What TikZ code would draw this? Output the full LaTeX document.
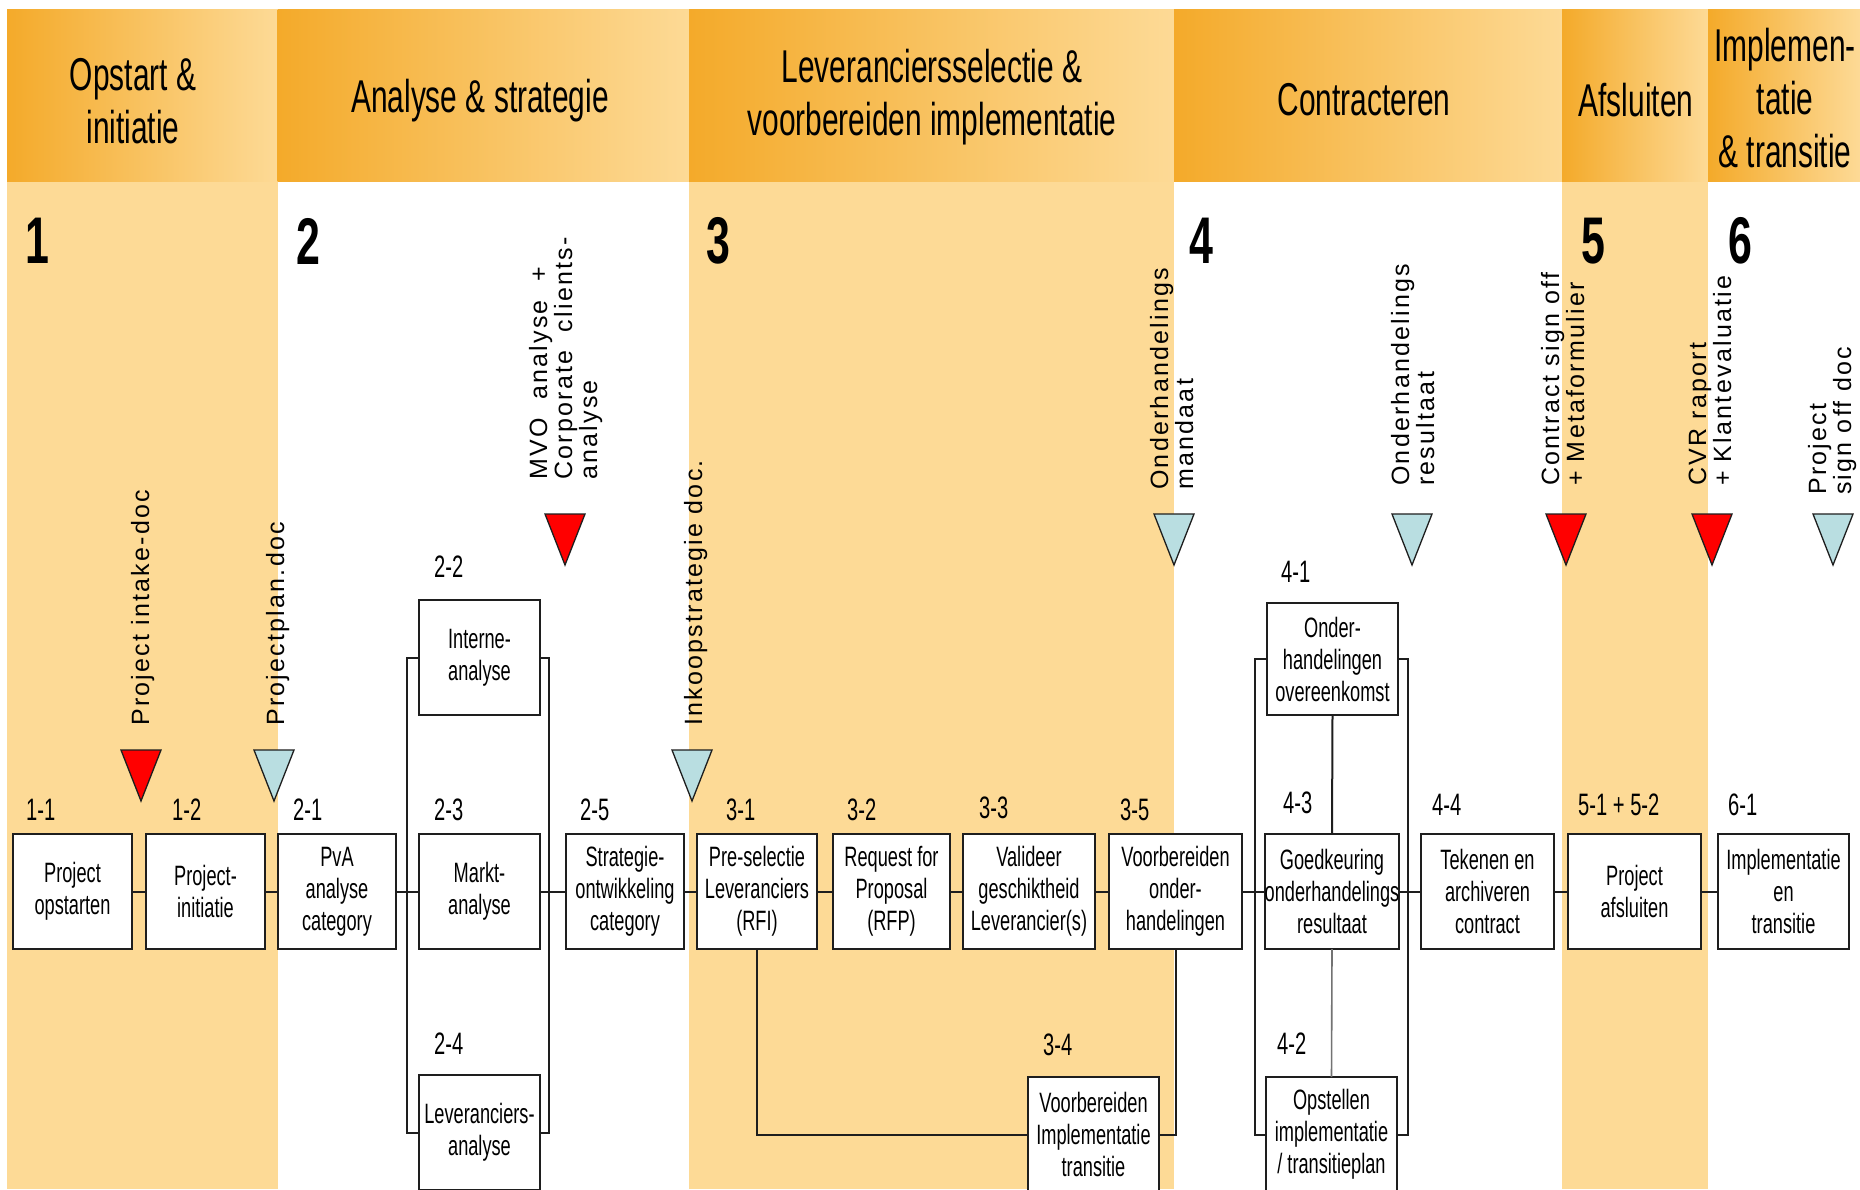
\documentclass[tikz,border=0pt]{standalone}
\usepackage{fontspec}
\setmainfont{Liberation Sans}
\newfontfamily\condfont[FakeStretch=0.65]{Liberation Sans}
\newfontfamily\docfont[LetterSpace=9]{Liberation Sans}
\usetikzlibrary{calc}

\definecolor{hdark}{RGB}{244,170,42}
\definecolor{hlight}{RGB}{253,218,150}
\definecolor{bandfill}{RGB}{253,218,150}
\definecolor{docblue}{RGB}{185,222,225}
\definecolor{docred}{RGB}{255,0,0}
\definecolor{ink}{RGB}{30,30,30}

\newcommand{\boxfont}{\condfont\fontsize{28}{32}\selectfont}
\newcommand{\headfont}{\condfont\fontsize{46}{53}\selectfont}
\newcommand{\numfont}{\condfont\bfseries\fontsize{66}{70}\selectfont}
\newcommand{\idfont}{\condfont\fontsize{31}{34}\selectfont}
\newcommand{\dfont}{\docfont\fontsize{25}{25}\selectfont}

\tikzset{
  stepbox/.style={draw=ink, line width=2pt, fill=white, inner sep=0pt,
    outer sep=0pt, minimum height=115pt, align=center, font=\boxfont},
  conn/.style={draw=ink, line width=2pt},
  stepid/.style={anchor=west, inner sep=0pt, font=\idfont},
  phasehead/.style={align=center, inner sep=0pt, font=\headfont},
  phasenum/.style={inner sep=0pt, font=\numfont},
  % rotated labels: the anchor sits on the baseline of the last line
  doclabel/.style={rotate=90, anchor=base west, align=left, inner sep=0pt, font=\dfont},
  pics/docmark/.style={code={
    \draw[fill=#1, draw=ink, line width=1.3pt, line join=miter]
      (-20,0) -- (20,0) -- (0,51) -- cycle;}}
}

\begin{document}
\begin{tikzpicture}[x=1pt,y=-1pt]
\useasboundingbox (0,0) rectangle (1860,1189);
\clip (0,0) rectangle (1860,1189);
\fill[white] (0,0) rectangle (1860,1189);

% phase columns below the headers
\fill[bandfill] (7,181) rectangle (277.5,1189);
\fill[bandfill] (689,181) rectangle (1174,1189);
\fill[bandfill] (1562,181) rectangle (1708,1189);

% phase headers
\shade[left color=hdark, right color=hlight] (7,9.5) rectangle (277.5,181);
\shade[left color=hdark, right color=hlight] (277.5,9.5) rectangle (689,181);
\shade[left color=hdark, right color=hlight] (689,9.5) rectangle (1174,181);
\shade[left color=hdark, right color=hlight] (1174,9.5) rectangle (1562,181);
\shade[left color=hdark, right color=hlight] (1562,9.5) rectangle (1708,181);
\shade[left color=hdark, right color=hlight] (1708,9.5) rectangle (1860,181);

\node[phasehead] (h1) at (133,101) {Opstart \&\\initiatie};
\node[phasehead] (h2) at (480,101) {Analyse \& strategie};
\node[phasehead] (h3) at (932,97) {Leveranciersselectie \&\\voorbereiden implementatie};
\node[phasehead] (h4) at (1364,100) {Contracteren};
\node[phasehead] (h5) at (1636,100) {Afsluiten};
\node[phasehead] (h6) at (1785,98) {Implemen-\\tatie\\\& transitie};

% phase numbers
\node[phasenum] (n1) at (37,241) {1};
\node[phasenum] (n2) at (308,241) {2};
\node[phasenum] (n3) at (718,241) {3};
\node[phasenum] (n4) at (1201,241) {4};
\node[phasenum] (n5) at (1593,241) {5};
\node[phasenum] (n6) at (1740,241) {6};

% deliverables
\pic at (141,750) {docmark=docred};
\pic at (274,750) {docmark=docblue};
\pic at (565,514) {docmark=docred};
\pic at (692,750) {docmark=docblue};
\pic at (1174,514) {docmark=docblue};
\pic at (1412,514) {docmark=docblue};
\pic at (1566,514) {docmark=docred};
\pic at (1712,514) {docmark=docred};
\pic at (1833,514) {docmark=docblue};

\node[doclabel] (d1) at (149,726) {Project intake-doc};
\node[doclabel] (d2) at (284,726) {Projectplan.doc};
\node[doclabel] (d3) at (597,480) {MVO \ analyse \ +\\Corporate \ clients-\\analyse};
\node[doclabel] (d4) at (702,726) {Inkoopstrategie doc.};
\node[doclabel] (d5) at (1193,490) {Onderhandelings\\mandaat};
\node[doclabel] (d6) at (1434,486) {Onderhandelings\\resultaat};
\node[doclabel] (d7) at (1584,486) {Contract sign off\\+ Metaformulier};
\node[doclabel] (d8) at (1731,486) {CVR raport\\+ Klantevaluatie};
\node[doclabel] (d9) at (1851,495) {Project\\sign off doc};

% process steps
\node[stepbox, minimum width=119pt] (b11) at (72.5,891.5) {Project\\opstarten};
\node[stepbox, minimum width=119pt] (b12) at (205.5,891.5) {Project-\\initiatie};
\node[stepbox, minimum width=118pt] (b21) at (337,891.5) {PvA\\analyse\\category};
\node[stepbox, minimum width=121pt] (b22) at (479.5,657.5) {Interne-\\analyse};
\node[stepbox, minimum width=121pt] (b23) at (479.5,891.5) {Markt-\\analyse};
\node[stepbox, minimum width=121pt] (b24) at (479.5,1132.5) {Leveranciers-\\analyse};
\node[stepbox, minimum width=118pt] (b25) at (625,891.5) {Strategie-\\ontwikkeling\\category};
\node[stepbox, minimum width=120pt] (b31) at (757,891.5) {Pre-selectie\\Leveranciers\\(RFI)};
\node[stepbox, minimum width=117pt] (b32) at (891.5,891.5) {Request for\\Proposal\\(RFP)};
\node[stepbox, minimum width=132pt] (b33) at (1029,891.5) {Valideer\\geschiktheid\\Leverancier(s)};
\node[stepbox, minimum width=131pt] (b34) at (1093.5,1134.5) {Voorbereiden\\Implementatie\\transitie};
\node[stepbox, minimum width=133pt] (b35) at (1175.5,891.5) {Voorbereiden\\onder-\\handelingen};
\node[stepbox, minimum width=131pt, minimum height=112pt] (b41) at (1332.5,659) {Onder-\\handelingen\\overeenkomst};
\node[stepbox, minimum width=131pt] (b42) at (1331.5,1134.5) {Opstellen\\implementatie\\/ transitieplan};
\node[stepbox, minimum width=132pt] (b43) at (1332,891.5) {Goedkeuring\\onderhandelings\\resultaat};
\node[stepbox, minimum width=133pt] (b44) at (1487.5,891.5) {Tekenen en\\archiveren\\contract};
\node[stepbox, minimum width=133pt] (b5) at (1634.5,891.5) {Project\\afsluiten};
\node[stepbox, minimum width=131pt] (b61) at (1783.5,891.5) {Implementatie\\en\\transitie};

% step numbers
\node[stepid] (i11) at (26,810) {1-1};
\node[stepid] (i12) at (172,810) {1-2};
\node[stepid] (i21) at (293,810) {2-1};
\node[stepid] (i22) at (434,567) {2-2};
\node[stepid] (i23) at (434,810) {2-3};
\node[stepid] (i24) at (434,1044) {2-4};
\node[stepid] (i25) at (580,810) {2-5};
\node[stepid] (i31) at (726,810) {3-1};
\node[stepid] (i32) at (847,810) {3-2};
\node[stepid] (i33) at (979,808) {3-3};
\node[stepid] (i34) at (1043,1045) {3-4};
\node[stepid] (i35) at (1120,810) {3-5};
\node[stepid] (i41) at (1281,572) {4-1};
\node[stepid] (i42) at (1277,1044) {4-2};
\node[stepid] (i43) at (1283,803) {4-3};
\node[stepid] (i44) at (1432,805) {4-4};
\node[stepid] (i5) at (1578,805) {5-1 + 5-2};
\node[stepid] (i61) at (1728,805) {6-1};

% connectors
\draw[conn] (b11.east) -- (b12.west);
\draw[conn] (b12.east) -- (b21.west);
\draw[conn] (b21.east) -- (b23.west);
\draw[conn] (b22.west) -- ++(-12,0) |- (b24.west);
\draw[conn] (b23.east) -- (b25.west);
\draw[conn] (b22.east) -- ++(9,0) |- (b24.east);
\draw[conn] (b25.east) -- (b31.west);
\draw[conn] (b31.east) -- (b32.west);
\draw[conn] (b32.east) -- (b33.west);
\draw[conn] (b33.east) -- (b35.west);
\draw[conn] (b31.south) |- (b34.west);
\draw[conn] (b34.east) -| (b35.south);
\draw[conn] (b35.east) -- (b43.west);
\draw[conn] (b41.west) -- ++(-12,0) |- (b42.west);
\draw[conn] (b41.east) -- ++(10,0) |- (b42.east);
\draw[conn] (b41.south) -- (b43.north);
\draw[conn, draw=black!55, line width=1.6pt] (b43.south) -- (b42.north);
\draw[conn] (b43.east) -- (b44.west);
\draw[conn] (b44.east) -- (b5.west);
\draw[conn] (b5.east) -- (b61.west);
\end{tikzpicture}
\end{document}
